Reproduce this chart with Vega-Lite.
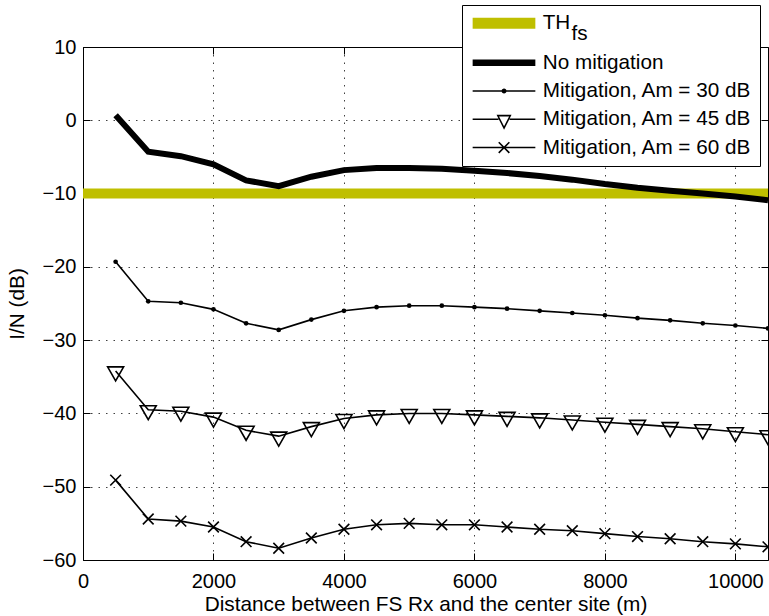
{
  "$schema": "https://vega.github.io/schema/vega-lite/v6.json",
  "width": 685,
  "height": 513,
  "autosize": "none",
  "padding": {"left": 83, "top": 47, "right": 1, "bottom": 56},
  "background": "white",
  "config": {
    "font": "Liberation Sans",
    "view": {"stroke": null},
    "style": {"guide-label": {"lineHeight": 11}},
    "axis": {
      "labelFont": "Liberation Sans",
      "labelFontSize": 20,
      "labelColor": "#000",
      "titleFont": "Liberation Sans",
      "titleFontSize": 20.8,
      "titleFontWeight": "normal",
      "titleColor": "#000",
      "domainColor": "#000",
      "domainWidth": 1,
      "tickColor": "#000",
      "tickWidth": 1,
      "gridColor": "#000",
      "gridOpacity": 0.75,
      "gridWidth": 1,
      "gridDash": [1.5, 6],
      "labelFlush": false,
      "labelOverlap": false
    },
    "legend": {
      "orient": "none",
      "legendX": 379,
      "legendY": -42,
      "direction": "vertical",
      "symbolSize": 400,
      "symbolStrokeWidth": 0,
      "labelFont": "Liberation Sans",
      "labelFontSize": 20.7,
      "labelColor": "#000",
      "labelLimit": 400,
      "labelOffset": 52,
      "padding": 8,
      "rowPadding": 6.3,
      "strokeColor": "#000",
      "fillColor": "#fff"
    }
  },
  "data": {
    "values": [
      {"series": "TH", "x": 0, "y": -10},
      {"series": "TH", "x": 10500, "y": -10},

      {"series": "No mitigation", "x": 500, "y": 0.7},
      {"series": "No mitigation", "x": 1000, "y": -4.3},
      {"series": "No mitigation", "x": 1500, "y": -4.9},
      {"series": "No mitigation", "x": 2000, "y": -6.0},
      {"series": "No mitigation", "x": 2500, "y": -8.2},
      {"series": "No mitigation", "x": 3000, "y": -9.0},
      {"series": "No mitigation", "x": 3500, "y": -7.7},
      {"series": "No mitigation", "x": 4000, "y": -6.8},
      {"series": "No mitigation", "x": 4500, "y": -6.5},
      {"series": "No mitigation", "x": 5000, "y": -6.5},
      {"series": "No mitigation", "x": 5500, "y": -6.6},
      {"series": "No mitigation", "x": 6000, "y": -6.9},
      {"series": "No mitigation", "x": 6500, "y": -7.2},
      {"series": "No mitigation", "x": 7000, "y": -7.6},
      {"series": "No mitigation", "x": 7500, "y": -8.1},
      {"series": "No mitigation", "x": 8000, "y": -8.7},
      {"series": "No mitigation", "x": 8500, "y": -9.2},
      {"series": "No mitigation", "x": 9000, "y": -9.6},
      {"series": "No mitigation", "x": 9500, "y": -10.0},
      {"series": "No mitigation", "x": 10000, "y": -10.4},
      {"series": "No mitigation", "x": 10500, "y": -10.9},

      {"series": "Mitigation, Am = 30 dB", "x": 500, "y": -19.3},
      {"series": "Mitigation, Am = 30 dB", "x": 1000, "y": -24.7},
      {"series": "Mitigation, Am = 30 dB", "x": 1500, "y": -24.9},
      {"series": "Mitigation, Am = 30 dB", "x": 2000, "y": -25.8},
      {"series": "Mitigation, Am = 30 dB", "x": 2500, "y": -27.7},
      {"series": "Mitigation, Am = 30 dB", "x": 3000, "y": -28.6},
      {"series": "Mitigation, Am = 30 dB", "x": 3500, "y": -27.2},
      {"series": "Mitigation, Am = 30 dB", "x": 4000, "y": -26.0},
      {"series": "Mitigation, Am = 30 dB", "x": 4500, "y": -25.5},
      {"series": "Mitigation, Am = 30 dB", "x": 5000, "y": -25.3},
      {"series": "Mitigation, Am = 30 dB", "x": 5500, "y": -25.3},
      {"series": "Mitigation, Am = 30 dB", "x": 6000, "y": -25.5},
      {"series": "Mitigation, Am = 30 dB", "x": 6500, "y": -25.7},
      {"series": "Mitigation, Am = 30 dB", "x": 7000, "y": -26.0},
      {"series": "Mitigation, Am = 30 dB", "x": 7500, "y": -26.3},
      {"series": "Mitigation, Am = 30 dB", "x": 8000, "y": -26.6},
      {"series": "Mitigation, Am = 30 dB", "x": 8500, "y": -27.0},
      {"series": "Mitigation, Am = 30 dB", "x": 9000, "y": -27.3},
      {"series": "Mitigation, Am = 30 dB", "x": 9500, "y": -27.7},
      {"series": "Mitigation, Am = 30 dB", "x": 10000, "y": -28.0},
      {"series": "Mitigation, Am = 30 dB", "x": 10500, "y": -28.4},

      {"series": "Mitigation, Am = 45 dB", "x": 500, "y": -34.2},
      {"series": "Mitigation, Am = 45 dB", "x": 1000, "y": -39.5},
      {"series": "Mitigation, Am = 45 dB", "x": 1500, "y": -39.7},
      {"series": "Mitigation, Am = 45 dB", "x": 2000, "y": -40.5},
      {"series": "Mitigation, Am = 45 dB", "x": 2500, "y": -42.3},
      {"series": "Mitigation, Am = 45 dB", "x": 3000, "y": -43.1},
      {"series": "Mitigation, Am = 45 dB", "x": 3500, "y": -41.8},
      {"series": "Mitigation, Am = 45 dB", "x": 4000, "y": -40.7},
      {"series": "Mitigation, Am = 45 dB", "x": 4500, "y": -40.2},
      {"series": "Mitigation, Am = 45 dB", "x": 5000, "y": -40.0},
      {"series": "Mitigation, Am = 45 dB", "x": 5500, "y": -40.0},
      {"series": "Mitigation, Am = 45 dB", "x": 6000, "y": -40.2},
      {"series": "Mitigation, Am = 45 dB", "x": 6500, "y": -40.4},
      {"series": "Mitigation, Am = 45 dB", "x": 7000, "y": -40.6},
      {"series": "Mitigation, Am = 45 dB", "x": 7500, "y": -40.9},
      {"series": "Mitigation, Am = 45 dB", "x": 8000, "y": -41.2},
      {"series": "Mitigation, Am = 45 dB", "x": 8500, "y": -41.5},
      {"series": "Mitigation, Am = 45 dB", "x": 9000, "y": -41.8},
      {"series": "Mitigation, Am = 45 dB", "x": 9500, "y": -42.1},
      {"series": "Mitigation, Am = 45 dB", "x": 10000, "y": -42.5},
      {"series": "Mitigation, Am = 45 dB", "x": 10500, "y": -42.9},

      {"series": "Mitigation, Am = 60 dB", "x": 500, "y": -49.1},
      {"series": "Mitigation, Am = 60 dB", "x": 1000, "y": -54.4},
      {"series": "Mitigation, Am = 60 dB", "x": 1500, "y": -54.7},
      {"series": "Mitigation, Am = 60 dB", "x": 2000, "y": -55.5},
      {"series": "Mitigation, Am = 60 dB", "x": 2500, "y": -57.5},
      {"series": "Mitigation, Am = 60 dB", "x": 3000, "y": -58.4},
      {"series": "Mitigation, Am = 60 dB", "x": 3500, "y": -57.0},
      {"series": "Mitigation, Am = 60 dB", "x": 4000, "y": -55.8},
      {"series": "Mitigation, Am = 60 dB", "x": 4500, "y": -55.2},
      {"series": "Mitigation, Am = 60 dB", "x": 5000, "y": -55.0},
      {"series": "Mitigation, Am = 60 dB", "x": 5500, "y": -55.2},
      {"series": "Mitigation, Am = 60 dB", "x": 6000, "y": -55.2},
      {"series": "Mitigation, Am = 60 dB", "x": 6500, "y": -55.5},
      {"series": "Mitigation, Am = 60 dB", "x": 7000, "y": -55.8},
      {"series": "Mitigation, Am = 60 dB", "x": 7500, "y": -56.0},
      {"series": "Mitigation, Am = 60 dB", "x": 8000, "y": -56.4},
      {"series": "Mitigation, Am = 60 dB", "x": 8500, "y": -56.8},
      {"series": "Mitigation, Am = 60 dB", "x": 9000, "y": -57.1},
      {"series": "Mitigation, Am = 60 dB", "x": 9500, "y": -57.5},
      {"series": "Mitigation, Am = 60 dB", "x": 10000, "y": -57.8},
      {"series": "Mitigation, Am = 60 dB", "x": 10500, "y": -58.2}
    ]
  },
  "layer": [
    {
      "transform": [{"filter": "datum.series === 'TH'"}],
      "mark": {"type": "line", "strokeWidth": 10, "color": "#BFBF00", "clip": true},
      "encoding": {
        "x": {
          "field": "x", "type": "quantitative",
          "scale": {"domain": [0, 10500], "nice": false, "zero": false},
          "axis": {
            "orient": "bottom",
            "values": [0, 2000, 4000, 6000, 8000, 10000],
            "format": "d",
            "title": "Distance between FS Rx and the center site (m)",
            "tickSize": -7,
            "labelPadding": 18,
            "titlePadding": 3,
            "grid": true
          }
        },
        "y": {
          "field": "y", "type": "quantitative",
          "scale": {"domain": [-60, 10], "nice": false, "zero": false},
          "axis": {
            "orient": "left",
            "values": [-60, -50, -40, -30, -20, -10, 0, 10],
            "format": "d",
            "title": "I/N (dB)",
            "tickSize": -7,
            "labelPadding": 14,
            "titlePadding": 15,
            "grid": true
          }
        }
      }
    },
    {
      "transform": [{"filter": "datum.series === 'No mitigation'"}],
      "mark": {"type": "line", "strokeWidth": 6, "color": "#000", "clip": true},
      "encoding": {
        "x": {
          "field": "x", "type": "quantitative",
          "scale": {"domain": [0, 10500], "nice": false, "zero": false},
          "axis": {
            "orient": "top",
            "values": [0, 2000, 4000, 6000, 8000, 10000],
            "labels": false,
            "title": null,
            "tickSize": -7,
            "grid": false
          }
        },
        "y": {
          "field": "y", "type": "quantitative",
          "scale": {"domain": [-60, 10], "nice": false, "zero": false},
          "axis": {
            "orient": "right",
            "values": [-60, -50, -40, -30, -20, -10, 0, 10],
            "labels": false,
            "title": null,
            "tickSize": -7,
            "grid": false
          }
        }
      }
    },
    {
      "transform": [{"filter": "indexof(datum.series, 'Mitigation') === 0"}],
      "mark": {"type": "line", "strokeWidth": 1.6, "color": "#000", "clip": true},
      "encoding": {
        "x": {"field": "x", "type": "quantitative", "axis": null},
        "y": {"field": "y", "type": "quantitative", "axis": null},
        "detail": {"field": "series", "type": "nominal"}
      }
    },
    {
      "transform": [{"filter": "datum.series === 'Mitigation, Am = 30 dB'"}],
      "mark": {"type": "point", "shape": "circle", "size": 22, "filled": true, "color": "#000", "opacity": 1, "clip": true},
      "encoding": {
        "x": {"field": "x", "type": "quantitative", "axis": null},
        "y": {"field": "y", "type": "quantitative", "axis": null}
      }
    },
    {
      "transform": [{"filter": "datum.series === 'Mitigation, Am = 45 dB'"}],
      "mark": {"type": "point", "shape": "M-0.254,-0.127H0.254L0,0.317Z", "size": 3969, "filled": false, "color": "#000", "strokeWidth": 1.6, "opacity": 1, "clip": true},
      "encoding": {
        "x": {"field": "x", "type": "quantitative", "axis": null},
        "y": {"field": "y", "type": "quantitative", "axis": null}
      }
    },
    {
      "transform": [{"filter": "datum.series === 'Mitigation, Am = 60 dB'"}],
      "mark": {"type": "point", "shape": "M-0.17,-0.17L0.17,0.17M-0.17,0.17L0.17,-0.17", "size": 3969, "filled": false, "color": "#000", "strokeWidth": 1.6, "opacity": 1, "clip": true},
      "encoding": {
        "x": {"field": "x", "type": "quantitative", "axis": null},
        "y": {"field": "y", "type": "quantitative", "axis": null}
      }
    },
    {
      "description": "Legend key: no rows pass the filter, only the series scales (and so the legend) come from it.",
      "transform": [{"filter": "datum.series === 'legend key'"}],
      "mark": {"type": "point", "filled": true, "opacity": 1},
      "encoding": {
        "x": {"field": "x", "type": "quantitative", "axis": null},
        "y": {"field": "y", "type": "quantitative", "axis": null},
        "shape": {
          "field": "series", "type": "nominal",
          "scale": {
            "domain": ["TH", "No mitigation", "Mitigation, Am = 30 dB", "Mitigation, Am = 45 dB", "Mitigation, Am = 60 dB"],
            "range": [
              "M-0.77,-0.55H5.5V0.55H-0.77Z",
              "M-0.77,-0.325H5.5V0.325H-0.77Z",
              "M-0.77,-0.08H5.5V0.08H-0.77ZM2.62,0A0.25,0.25,0,1,1,2.12,0A0.25,0.25,0,1,1,2.62,0Z",
              "M-0.77,-0.08H1.82V0.08H-0.77ZM2.92,-0.08H5.5V0.08H2.92ZM1.62,-0.44L3.12,-0.44L2.37,1.04ZM1.87,-0.28L2.37,0.7L2.87,-0.28Z",
              "M-0.77,-0.08H5.5V0.08H-0.77ZM1.897,-0.587L2.957,0.473L2.843,0.587L1.783,-0.473ZM2.843,-0.587L2.957,-0.473L1.897,0.587L1.783,0.473Z"
            ]
          },
          "legend": {
            "title": null,
            "labelExpr": "datum.value === 'TH' ? ['TH', '\u200b\u00a0\u00a0\u00a0\u00a0\u00a0fs'] : datum.label"
          }
        },
        "fill": {
          "field": "series", "type": "nominal",
          "scale": {
            "domain": ["TH", "No mitigation", "Mitigation, Am = 30 dB", "Mitigation, Am = 45 dB", "Mitigation, Am = 60 dB"],
            "range": ["#BFBF00", "#000000", "#000000", "#000000", "#000000"]
          },
          "legend": {
            "title": null,
            "labelExpr": "datum.value === 'TH' ? ['TH', '\u200b\u00a0\u00a0\u00a0\u00a0\u00a0fs'] : datum.label"
          }
        }
      }
    }
  ],
  "resolve": {"axis": {"x": "independent", "y": "independent"}}
}
